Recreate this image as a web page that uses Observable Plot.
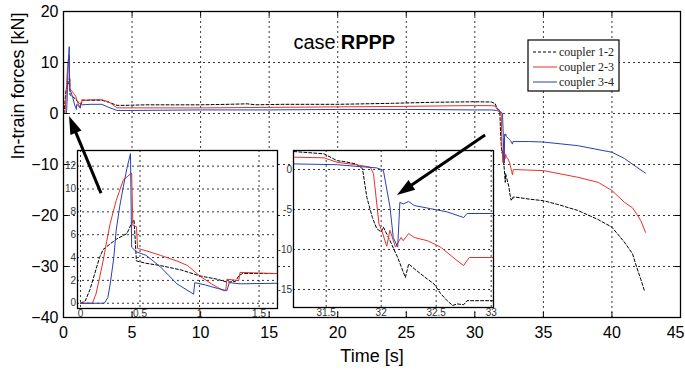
<!DOCTYPE html>
<html><head><meta charset="utf-8">
<script src="https://cdn.jsdelivr.net/npm/d3@7"></script>
<script src="https://cdn.jsdelivr.net/npm/@observablehq/plot@0.6"></script>
<style>
body{margin:0;background:#fff;}
#chart{width:685px;height:373px;}
</style></head><body><div id="chart"></div>
<script>
// ---- data ----
const t12 = [0,0.04,0.08,0.12,0.16,0.19,0.25,0.3,0.39,0.43,0.45,0.47,0.55,0.67,0.85,1.0,1.15,1.23,1.3,1.33,1.36,1.65,2.0,2.8,3.3,3.9,4.5,6,8,10,12,13.4,14,16,20,24,27,30,31.2,31.48,31.6,31.66,31.77,31.83,31.87,31.92,31.96,32.0,32.02,32.08,32.15,32.22,32.25,32.3,32.42,32.48,32.54,32.6,32.65,32.69,32.75,32.78,33.0,34,35,36,37.5,39,40,40.9,41.5,41.8,42.1,42.4];
const f12 = [0,0.2,1.2,2.6,4.0,4.7,5.2,5.6,6.1,7.0,7.3,3.7,3.5,3.3,2.9,2.4,2.1,1.85,1.9,2.4,2.6,2.6,2.6,2.6,2.2,1.6,1.6,1.7,1.7,1.7,1.8,1.9,1.7,1.8,1.8,2.0,2.2,2.3,2.25,1.96,1.1,1.0,0.7,0.1,-3.5,-6.0,-7.4,-7.8,-7.2,-8.9,-11.0,-13.5,-11.8,-12.4,-13.7,-14.3,-15.5,-16.4,-17.0,-16.8,-16.9,-16.4,-16.4,-16.8,-17.1,-17.8,-19.0,-20.8,-22.3,-25.2,-27.5,-30.1,-32.5,-35.0];
const t23 = [0,0.1,0.13,0.16,0.19,0.22,0.25,0.3,0.36,0.43,0.44,0.47,0.48,0.55,0.67,0.81,0.9,1.0,1.1,1.2,1.22,1.23,1.32,1.33,1.34,1.65,2.0,2.8,3.3,3.9,5,10,15,20,25,28,30,31.2,31.48,31.6,31.77,31.9,31.93,31.98,32.01,32.05,32.08,32.13,32.18,32.2,32.25,32.3,32.42,32.54,32.69,32.75,32.8,33.0,34,35,37.5,39,40,40.9,41.5,41.8,42.1,42.45];
const f23 = [0,0,0.8,2.2,3.7,5.4,7.0,9.0,10.8,11.4,6.8,6.7,4.8,4.6,4.2,3.7,3.3,2.4,1.7,1.1,1.1,2.1,2.0,2.0,2.7,2.6,2.7,2.7,2.3,1.1,1.1,1.1,1.2,1.3,1.4,1.5,1.55,1.54,1.46,0.9,0.6,0.3,-0.5,-6.8,-7.8,-9.6,-7.6,-9.7,-8.5,-8.9,-8.0,-8.5,-8.9,-9.7,-11.4,-12.0,-11.0,-11.0,-11.1,-11.2,-12.5,-13.5,-15.1,-17.4,-18.5,-19.7,-21.0,-23.3];
const t34 = [0,0.2,0.23,0.25,0.28,0.3,0.33,0.36,0.39,0.42,0.43,0.47,0.55,0.67,0.81,0.95,0.96,1.05,1.15,1.23,1.25,1.34,1.65,2.0,2.8,3.3,3.9,5,10,15,20,25,30,31.2,31.6,31.77,31.96,32.02,32.08,32.11,32.15,32.17,32.2,32.25,32.3,32.45,32.6,32.75,32.78,33.0,34,35,37.5,40,40.9,41.8,42.45];
const f34 = [0,0,0.5,1.7,4.0,6.4,8.5,10.2,11.8,13.1,4.9,4.5,4.2,3.2,1.7,0.8,1.8,1.6,1.3,1.1,1.8,1.7,1.75,1.8,1.8,1.2,0.6,0.6,0.7,0.7,0.8,0.8,0.7,0.7,0.6,0.4,0.2,-0.1,-4.7,-8.5,-9.7,-4.1,-4.3,-4.0,-4.5,-4.9,-5.3,-6.0,-5.5,-5.5,-5.5,-5.6,-6.3,-7.6,-8.8,-10.5,-11.7];

const seriesNames = ["coupler 1-2", "coupler 2-3", "coupler 3-4"];
const seriesColors = ["#000000", "#e8302a", "#2a40b0"];
const seriesDash = ["3,2", null, null];

const xTicks = [0,5,10,15,20,25,30,35,40,45];
const yTicks = [20,10,0,-10,-20,-30,-40];
const inset1XTicks = [0,0.5,1,1.5];
const inset1YTicks = [0,2,4,6,8,10,12];
const inset2XTicks = [31.5,32,32.5,33];
const inset2YTicks = [0,-5,-10,-15];
const inset1Domain = {x: [-0.025, 1.655], y: [-0.46, 13.37]};
const inset2Domain = {x: [31.203, 33.021], y: [-17.25, 2.375]};

const titleParts = ["case", "RPPP"];
const titleAt = {t: 20.0, f: 13.9};
const xLabel = "Time [s]";
const yLabel = "In-train forces [kN]";
const arrows = [
  {t1: 2.77, f1: -15.7, t2: 0.44, f2: -0.6},
  {t1: 30.78, f1: -4.31, t2: 24.36, f2: -16.08}
];

// ---- build rows ----
const times = [t12, t23, t34], forces = [f12, f23, f34];
const rows = [];
times.forEach((ts, i) => ts.forEach((t, j) => rows.push({series: seriesNames[i], t, f: forces[i][j]})));

function lineMarks(clip) {
  return seriesNames.map((name, i) => Plot.line(rows.filter(d => d.series === name), {
    x: "t", y: "f", stroke: seriesColors[i], strokeWidth: 1,
    strokeDasharray: seriesDash[i] || undefined, clip
  }));
}

const gridStyle = {stroke: "black", strokeOpacity: 1, strokeWidth: 0.8, strokeDasharray: "2,3"};
const plainFmt = d => String(d);

function makeInset(dom, xt, yt, frame) {
  const mL = 17, mR = 1, mT = 1, mB = 12;
  const w = frame.w + mL + mR, h = frame.h + mT + mB;
  const svg = Plot.plot({
    width: w, height: h, marginLeft: mL, marginRight: mR, marginTop: mT, marginBottom: mB,
    style: `font-family: 'Liberation Sans', Arial, sans-serif; font-size: 10px; color: #333; background: none; max-width: none; width: ${w}px; height: ${h}px; overflow: visible;`,
    x: {domain: dom.x}, y: {domain: dom.y},
    marks: [
      Plot.frame({fill: "white", stroke: null}),
      Plot.gridX({ticks: xt, ...gridStyle}),
      Plot.gridY({ticks: yt, ...gridStyle}),
      ...lineMarks(true),
      Plot.axisX({ticks: xt, tickSize: 0, tickPadding: 1, label: null, tickFormat: plainFmt, fontSize: 10}),
      Plot.axisY({ticks: yt, tickSize: 0, tickPadding: 1.5, label: null, tickFormat: plainFmt, fontSize: 10}),
      Plot.frame({stroke: "black", strokeWidth: 1.3})
    ]
  });
  svg.setAttribute("x", frame.x - mL);
  svg.setAttribute("y", frame.y - mT);
  return svg;
}

const main = Plot.plot({
  width: 685, height: 373,
  marginLeft: 63, marginRight: 5, marginTop: 11, marginBottom: 56,
  style: "font-family: 'Liberation Sans', Arial, sans-serif; font-size: 16px; background: white; color: black;",
  x: {domain: [0, 45]}, y: {domain: [-40, 20]},
  marks: [
    Plot.gridX({ticks: xTicks, ...gridStyle}),
    Plot.gridY({ticks: yTicks, ...gridStyle}),
    ...lineMarks(false),
    // inside ticks on four sides
    Plot.ruleX(xTicks, {x: d => d, insetTop: 301, stroke: "black"}),
    Plot.ruleX(xTicks, {x: d => d, insetBottom: 301, stroke: "black"}),
    Plot.ruleY(yTicks, {y: d => d, insetRight: 612, stroke: "black"}),
    Plot.ruleY(yTicks, {y: d => d, insetLeft: 612, stroke: "black"}),
    Plot.axisX(xTicks.slice(0, -1), {tickSize: 0, tickPadding: 9, label: null, fontSize: 16}),
    Plot.axisX(xTicks.slice(-1), {tickSize: 0, tickPadding: 9, label: null, fontSize: 16, textAnchor: "end", dx: 4}),
    Plot.axisY({ticks: yTicks, tickSize: 0, tickPadding: 5, label: null, fontSize: 16}),
    Plot.text([xLabel], {frameAnchor: "bottom", dy: 44, text: d => d, fontSize: 18}),
    Plot.text([yLabel], {frameAnchor: "left", dx: -45, dy: -5, rotate: -90, text: d => d, fontSize: 18}),
    Plot.text([titleParts[0]], {x: () => titleAt.t, y: () => titleAt.f, text: d => d, textAnchor: "end", dx: -2, fontSize: 20}),
    Plot.text([titleParts[1]], {x: () => titleAt.t, y: () => titleAt.f, text: d => d, textAnchor: "start", dx: 3, fontSize: 20, fontWeight: "bold"}),
    Plot.frame({stroke: "black", strokeWidth: 1.3}),
    () => makeInset(inset1Domain, inset1XTicks, inset1YTicks, {x: 77, y: 150, w: 200, h: 158}),
    () => makeInset(inset2Domain, inset2XTicks, inset2YTicks, {x: 293, y: 150, w: 200, h: 157}),
    (index, scales) => {
      const g = d3.create("svg:g");
      for (const a of arrows) {
        const x1 = scales.x(a.t1), y1 = scales.y(a.f1), x2 = scales.x(a.t2), y2 = scales.y(a.f2);
        const dx = x2 - x1, dy = y2 - y1, len = Math.hypot(dx, dy), ux = dx / len, uy = dy / len;
        const hl = 18, hw = 6;
        const bx = x2 - ux * hl, by = y2 - uy * hl;
        g.append("line").attr("x1", x1).attr("y1", y1).attr("x2", bx + ux * 2).attr("y2", by + uy * 2)
          .attr("stroke", "black").attr("stroke-width", 3);
        g.append("path").attr("d", `M${x2},${y2}L${bx - uy * hw},${by + ux * hw}L${bx + uy * hw},${by - ux * hw}Z`)
          .attr("fill", "black");
      }
      return g.node();
    },
    () => {
      const g = d3.create("svg:g");
      g.append("rect").attr("x", 528).attr("y", 40).attr("width", 91).attr("height", 51)
        .attr("fill", "white").attr("stroke", "black").attr("stroke-width", 1.2);
      seriesNames.forEach((name, i) => {
        const y = 52 + i * 15;
        g.append("line").attr("x1", 533).attr("x2", 557).attr("y1", y).attr("y2", y)
          .attr("stroke", seriesColors[i]).attr("stroke-width", 1)
          .attr("stroke-dasharray", seriesDash[i]);
        g.append("text").attr("x", 559).attr("y", y).attr("dy", "0.35em")
          .attr("text-anchor", "start")
          .attr("font-family", "'Liberation Serif', 'Times New Roman', serif").attr("font-size", 12)
          .attr("fill", "#222").text(name);
      });
      return g.node();
    }
  ]
});
document.getElementById("chart").appendChild(main);
</script>
</body></html>
